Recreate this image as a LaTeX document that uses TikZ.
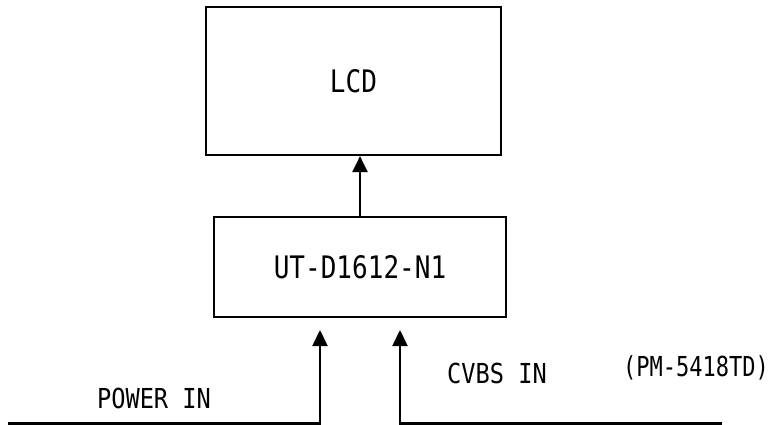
\documentclass[tikz,border=0pt]{standalone}
\usepackage{fontspec}
\usetikzlibrary{arrows.meta}
\newfontfamily\gothic[FakeStretch=0.86]{DejaVu Sans Mono}
\newfontfamily\gothicb[FakeStretch=0.84]{DejaVu Sans Mono}
\newfontfamily\gothicn[FakeStretch=0.8]{DejaVu Sans Mono}
\tikzset{
  blk/.style={draw, line width=2.2pt, inner sep=0pt, font=\gothicb\fontsize{31}{32}\selectfont},
  lbl/.style={inner sep=0pt, font=\gothic\fontsize{27.5}{28}\selectfont},
  lbln/.style={inner sep=0pt, font=\gothicn\fontsize{27.5}{28}\selectfont},
  arr/.style={line width=2.2pt, -{Triangle[length=16pt,width=15pt]}}
}
\begin{document}
\begin{tikzpicture}[x=1pt,y=-1pt]
\useasboundingbox (0,0) rectangle (772,425);
\node[blk, minimum width=295pt, minimum height=148pt] (lcd) at (353.5,81) {LCD};
\node[blk, minimum width=292pt, minimum height=100pt] (ut) at (360,267) {UT-D1612-N1};
\draw[arr] (ut.north) -- (ut.north |- lcd.south);
\coordinate (pwstart) at (8,423.5);
\coordinate (pwtip) at (320,330);
\coordinate (cvend) at (722,423.5);
\coordinate (cvtip) at (400,330);
\draw[arr] (pwstart) -| (pwtip);
\draw[arr] (cvend) -| (cvtip);
\node[lbl] (pw) at (154,398) {POWER IN};
\node[lbl] (cv) at (497,373) {CVBS IN};
\node[lbln] (pm) at (696,368) {(PM-5418TD)};
\end{tikzpicture}
\end{document}
